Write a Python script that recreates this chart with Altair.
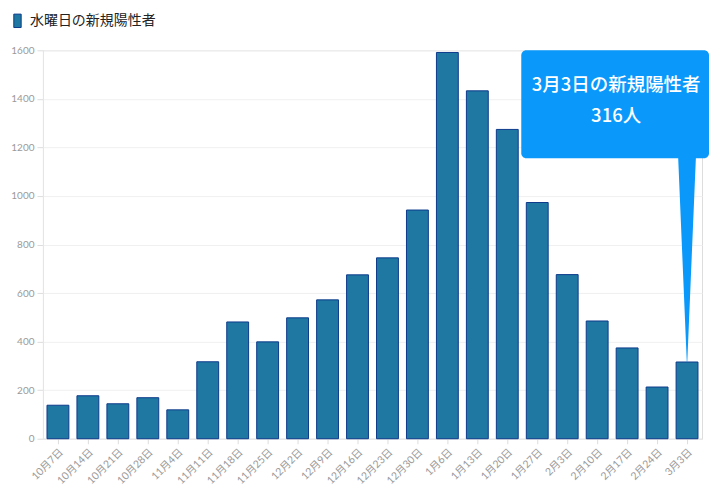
import altair as alt
import pandas as pd

dates = ["10月7日", "10月14日", "10月21日", "10月28日", "11月4日", "11月11日", "11月18日",
         "11月25日", "12月2日", "12月9日", "12月16日", "12月23日", "12月30日", "1月6日",
         "1月13日", "1月20日", "1月27日", "2月3日", "2月10日", "2月17日", "2月24日", "3月3日"]
values = [138, 177, 144, 169, 119, 317, 481, 399, 498, 572, 675, 745, 942, 1591,
          1433, 1274, 973, 676, 485, 374, 213, 316]
series_name = "水曜日の新規陽性者"
callout_title = "3月3日の新規陽性者"
callout_value = "316人"

df = pd.DataFrame({"date": dates, "value": values, "series": series_name})

FONT = "Noto Sans CJK JP"
AXFONT = "Lato, Noto Sans CJK JP"
BAR_FILL = "#1f78a1"
BAR_STROKE = "#0d3a8c"
CALLOUT = "#0a99fb"

x_enc = alt.X("date:N", sort=dates, title=None,
              scale=alt.Scale(paddingInner=0.27, paddingOuter=0.135),
              axis=alt.Axis(labelAngle=-45, labelColor="#9a9a9a", labelFontSize=10.5,
                            labelFont=AXFONT, tickColor="#dddddd", tickSize=5,
                            domainColor="#e6e6e6", labelPadding=3))

bars = alt.Chart(df).mark_bar(stroke=BAR_STROKE, strokeWidth=1).encode(
    x=x_enc,
    y=alt.Y("value:Q", title=None,
            scale=alt.Scale(domain=[0, 1600]),
            axis=alt.Axis(values=list(range(0, 1601, 200)), format="d", labelColor="#9a9a9a",
                          labelFontSize=10, labelFont=AXFONT, tickColor="#dddddd",
                          tickSize=6, domainColor="#e6e6e6", gridColor="#f0f0f0",
                          labelPadding=3)),
    color=alt.Color("series:N", scale=alt.Scale(range=[BAR_FILL]),
                    legend=alt.Legend(title=None, orient="none", legendX=-33, legendY=-37,
                                      symbolType="M-0.55,-1L0.55,-1L0.55,1L-0.55,1Z",
                                      symbolSize=180, symbolStrokeColor=BAR_STROKE,
                                      symbolStrokeWidth=1, symbolFillColor="#1a6fa8",
                                      labelFontSize=14, labelColor="#222222",
                                      labelFont=FONT, labelOffset=5)),
)

tail_df = pd.DataFrame({"date": ["3月3日", "3月3日"], "value": [1170, 316], "w": [18, 0.5]})
tail = alt.Chart(tail_df).mark_trail(color=CALLOUT).encode(
    x=alt.X("date:N", sort=dates),
    y="value:Q",
    size=alt.Size("w:Q", scale=None, legend=None),
)

box = alt.Chart(pd.DataFrame({"a": [1]})).mark_rect(color=CALLOUT, cornerRadius=5).encode(
    x=alt.value(479), x2=alt.value(667), y=alt.value(0), y2=alt.value(108))

t1 = alt.Chart(pd.DataFrame({"t": [callout_title]})).mark_text(
    color="white", fontSize=18.5, font=FONT, fontWeight=500, align="center", baseline="middle"
).encode(text="t:N", x=alt.value(574), y=alt.value(35))
t2 = alt.Chart(pd.DataFrame({"t": [callout_value]})).mark_text(
    color="white", fontSize=18.5, font=FONT, fontWeight=500, align="center", baseline="middle"
).encode(text="t:N", x=alt.value(574), y=alt.value(66))

chart = alt.layer(bars, tail, box, t1, t2).properties(
    width=660, height=389,
    autosize=alt.AutoSizeParams(type="none"),
    padding={"left": 35, "top": 42, "right": 10, "bottom": 55},
).configure_view(stroke=None).configure(background="white")

chart.save("out.html", embed_options={"renderer": "svg", "actions": False})
